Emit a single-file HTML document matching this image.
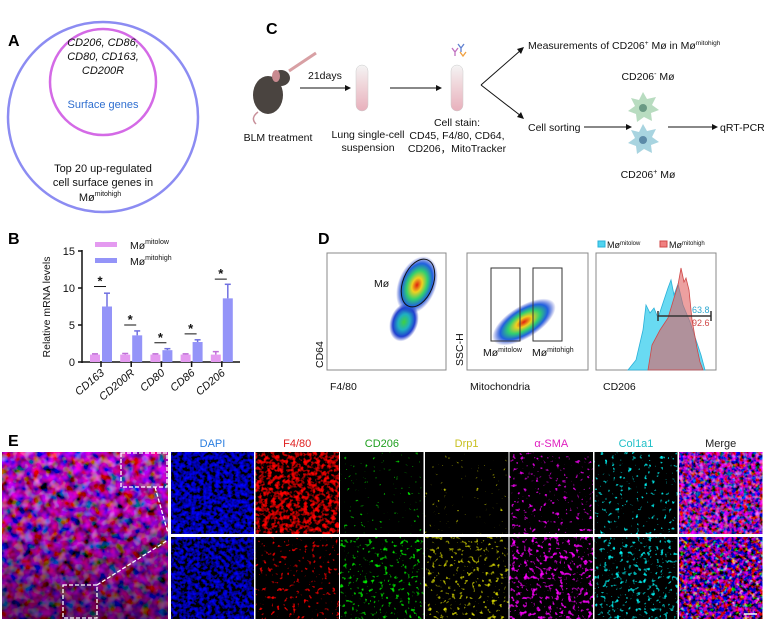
<!DOCTYPE html>
<html><head><meta charset="utf-8">
<style>
html,body{margin:0;padding:0;background:#fff;}
svg{display:block;font-family:"Liberation Sans",Arial,sans-serif;}
.lbl{font-weight:bold;font-size:16px;}
.t{font-size:10.5px;fill:#111;}
</style></head>
<body>
<svg id="fig" width="764" height="622" viewBox="0 0 764 622" xmlns="http://www.w3.org/2000/svg">
<defs>
  <radialGradient id="blob" cx="50%" cy="50%" r="50%">
    <stop offset="0%" stop-color="#e02010"/><stop offset="25%" stop-color="#f0d020"/>
    <stop offset="50%" stop-color="#30d070"/><stop offset="75%" stop-color="#2060e0"/>
    <stop offset="100%" stop-color="#2030c0" stop-opacity="0"/>
  </radialGradient>
  <radialGradient id="blob2" cx="50%" cy="50%" r="50%">
    <stop offset="0%" stop-color="#40d040"/><stop offset="40%" stop-color="#20b0c0"/>
    <stop offset="75%" stop-color="#2040d0"/><stop offset="100%" stop-color="#2030c0" stop-opacity="0"/>
  </radialGradient>
  <linearGradient id="tube" x1="0" y1="0" x2="0" y2="1">
    <stop offset="0%" stop-color="#f4f4f4"/><stop offset="40%" stop-color="#f0d8dc"/><stop offset="100%" stop-color="#e8b0bc"/>
  </linearGradient>
  <linearGradient id="darken" x1="0" y1="0" x2="0" y2="1">
    <stop offset="0%" stop-color="#000" stop-opacity="0"/><stop offset="45%" stop-color="#000" stop-opacity="0.15"/><stop offset="100%" stop-color="#000" stop-opacity="0.5"/>
  </linearGradient>
</defs>

<!-- Panel A -->
<g>
  <text class="lbl" x="8" y="46">A</text>
  <circle cx="103" cy="117" r="95" fill="none" stroke="#8c8cf2" stroke-width="2.5"/>
  <circle cx="103" cy="82" r="53" fill="none" stroke="#d46ae6" stroke-width="2.5"/>
  <g font-style="italic" font-size="11" text-anchor="middle" fill="#111">
    <text x="103" y="46">CD206, CD86,</text><text x="103" y="60">CD80, CD163,</text><text x="103" y="74">CD200R</text>
  </g>
  <text x="103" y="108" font-size="11" text-anchor="middle" fill="#2f6fd0">Surface genes</text>
  <g font-size="11" text-anchor="middle" fill="#111">
    <text x="103" y="172">Top 20 up-regulated</text><text x="103" y="186">cell surface genes in</text>
    <text x="100" y="201">Mø<tspan font-size="7" dy="-5">mitohigh</tspan></text>
  </g>
</g>

<!-- Panel C -->
<g>
  <text class="lbl" x="266" y="34">C</text>
  <g>
    <ellipse cx="268" cy="95" rx="15" ry="19" fill="#4a4440"/>
    <ellipse cx="281" cy="78" rx="9" ry="8" fill="#4a4440"/>
    <ellipse cx="276" cy="76" rx="4" ry="6" fill="#c88a90"/>
    <path d="M258 112 Q250 118 256 124" stroke="#c8909a" fill="none" stroke-width="1.5"/>
    <line x1="289" y1="71" x2="316" y2="53" stroke="#d8a0a4" stroke-width="3"/>
  </g>
  <text class="t" x="308" y="79">21days</text>
  <line x1="300" y1="88" x2="345" y2="88" stroke="#111"/><path d="M345 85 L351 88 L345 91Z" fill="#111"/>
  <rect x="356" y="65" width="12" height="46" rx="6" fill="url(#tube)" stroke="#ccc" stroke-width="0.5"/>
  <line x1="390" y1="88" x2="436" y2="88" stroke="#111"/><path d="M436 85 L442 88 L436 91Z" fill="#111"/>
  <rect x="451" y="65" width="12" height="46" rx="6" fill="url(#tube)" stroke="#ccc" stroke-width="0.5"/>
  <g stroke-width="1.3" fill="none">
    <path d="M452 48 l3 4 l3 -4 M455 52 v4" stroke="#c070c0"/><path d="M458 44 l3 4 l3 -4 M461 48 v4" stroke="#6080d0"/><path d="M460 52 l3 4 l3 -4" stroke="#f0a040"/>
  </g>
  <text class="t" x="278" y="141" text-anchor="middle">BLM treatment</text>
  <text class="t" x="368" y="138" text-anchor="middle" font-size="10"><tspan x="368">Lung single-cell</tspan><tspan x="368" dy="13">suspension</tspan></text>
  <text class="t" x="457" y="126" text-anchor="middle" font-size="10"><tspan x="457">Cell stain:</tspan><tspan x="457" dy="13">CD45, F4/80, CD64,</tspan><tspan x="457" dy="13">CD206，MitoTracker</tspan></text>
  <line x1="481" y1="85" x2="521" y2="50" stroke="#111"/><path d="M517 49 L524 47 L521 54Z" fill="#111"/>
  <line x1="481" y1="85" x2="521" y2="116" stroke="#111"/><path d="M521 112 L524 119 L517 117Z" fill="#111"/>
  <text class="t" x="528" y="49" font-size="10">Measurements of CD206<tspan font-size="6.5" dy="-4">+</tspan><tspan dy="4"> Mø in Mø</tspan><tspan font-size="6.5" dy="-4">mitohigh</tspan></text>
  <text class="t" x="648" y="80" text-anchor="middle" font-size="10">CD206<tspan font-size="7" dy="-4">-</tspan><tspan dy="4"> Mø</tspan></text>
  <g><polygon points="643,92 647,99 656,97 652,105 659,110 651,113 652,121 644,117 637,122 636,114 628,111 635,106 631,98 639,100" fill="#b8dcc0"/><circle cx="643" cy="108" r="4" fill="#6a9a84"/></g>
  <g><polygon points="643,124 647,131 656,129 652,137 659,142 651,145 652,153 644,149 637,154 636,146 628,143 635,138 631,130 639,132" fill="#a8d4e0"/><circle cx="643" cy="140" r="4" fill="#5c8aa8"/></g>
  <text class="t" x="648" y="178" text-anchor="middle" font-size="10">CD206<tspan font-size="7" dy="-4">+</tspan><tspan dy="4"> Mø</tspan></text>
  <text class="t" x="528" y="131" font-size="10">Cell sorting</text>
  <line x1="584" y1="127" x2="626" y2="127" stroke="#111"/><path d="M626 124 L632 127 L626 130Z" fill="#111"/>
  <line x1="668" y1="127" x2="712" y2="127" stroke="#111"/><path d="M712 124 L718 127 L712 130Z" fill="#111"/>
  <text class="t" x="720" y="131" font-size="10">qRT-PCR</text>
</g>

<!-- Panel B -->
<g id="panelB">
  <text class="lbl" x="8" y="244">B</text>
  <rect x="95" y="242" width="22" height="5" fill="#e49af0"/>
  <text class="t" x="130" y="249">Mø<tspan font-size="7" dy="-5">mitolow</tspan></text>
  <rect x="95" y="258" width="22" height="5" fill="#9494f8"/>
  <text class="t" x="130" y="265">Mø<tspan font-size="7" dy="-5">mitohigh</tspan></text>
  <text transform="translate(50,307) rotate(-90)" text-anchor="middle" font-size="10.5" fill="#111">Relative mRNA levels</text>
</g>

<!-- Panel D -->
<g>
  <text class="lbl" x="318" y="244">D</text>
  <rect x="327" y="253" width="119" height="117" fill="#fff" stroke="#888"/>
  <ellipse cx="404" cy="322" rx="14" ry="20" transform="rotate(20 404 322)" fill="url(#blob2)"/>
  <ellipse cx="417" cy="285" rx="19" ry="30" transform="rotate(22 417 285)" fill="url(#blob)"/>
  <ellipse cx="418" cy="283" rx="15" ry="25" transform="rotate(22 418 283)" fill="none" stroke="#111"/>
  <text class="t" x="374" y="287">Mø</text>
  <text transform="translate(323,368) rotate(-90)" class="t">CD64</text>
  <text class="t" x="330" y="390">F4/80</text>

  <rect x="467" y="253" width="121" height="117" fill="#fff" stroke="#888"/>
  <ellipse cx="524" cy="322" rx="16" ry="36" transform="rotate(58 524 322)" fill="url(#blob)"/>
  <rect x="491" y="268" width="29" height="73" fill="none" stroke="#333"/>
  <rect x="533" y="268" width="29" height="73" fill="none" stroke="#333"/>
  <text class="t" x="483" y="356">Mø<tspan font-size="7" dy="-4">mitolow</tspan></text>
  <text class="t" x="532" y="356">Mø<tspan font-size="7" dy="-4">mitohigh</tspan></text>
  <text transform="translate(463,366) rotate(-90)" class="t">SSC-H</text>
  <text class="t" x="470" y="390">Mitochondria</text>

  <rect x="596" y="253" width="120" height="117" fill="#fff" stroke="#888"/>
  <polygon points="628,370 636,360 643,330 646,305 650,313 654,308 658,318 664,300 668,288 671,280 674,295 678,284 683,305 690,322 696,340 701,355 705,370" fill="#4fd4f0" fill-opacity="0.85" stroke="#2ab0d8" stroke-width="0.8"/>
  <polygon points="648,370 652,345 660,330 668,318 674,298 678,285 681,268 684,282 686,278 689,290 692,320 697,348 700,362 703,370" fill="#e06060" fill-opacity="0.6" stroke="#d04848" stroke-width="0.8"/>
  <line x1="658" y1="316" x2="711" y2="316" stroke="#333" stroke-width="1.5"/>
  <line x1="658" y1="311" x2="658" y2="321" stroke="#333" stroke-width="1.5"/><line x1="711" y1="311" x2="711" y2="321" stroke="#333" stroke-width="1.5"/>
  <text x="692" y="313" font-size="9" fill="#30a8d0">63.8</text>
  <text x="692" y="326" font-size="9" fill="#d04848">92.6</text>
  <rect x="598" y="241" width="7" height="6" fill="#4fd4f0" stroke="#2ab0d8"/>
  <text x="607" y="248" font-size="9" fill="#111">Mø<tspan font-size="6" dy="-3">mitolow</tspan></text>
  <rect x="660" y="241" width="7" height="6" fill="#f08080" stroke="#d04848"/>
  <text x="669" y="248" font-size="9" fill="#111">Mø<tspan font-size="6" dy="-3">mitohigh</tspan></text>
  <text class="t" x="603" y="390">CD206</text>
</g>

<!-- Panel E -->
<g id="panelE">
  <text class="lbl" x="8" y="446">E</text>
</g>
</svg>

<script>
// ---- Panel B data ----
const genes = ['CD163','CD200R','CD80','CD86','CD206'];
const lowVals = [1.0, 1.0, 1.0, 1.0, 1.0];
const lowErr = [1.1, 1.15, 1.1, 1.1, 1.4];
const highVals = [7.5, 3.6, 1.6, 2.7, 8.6];
const highErr = [9.3, 4.2, 1.8, 3.0, 10.5];
const sigLevels = [10.2, 5.0, 2.6, 3.8, 11.2];
const yTicks = [0, 5, 10, 15];

const NS = 'http://www.w3.org/2000/svg';
function mk(tag, attrs, parent) {
  const e = document.createElementNS(NS, tag);
  for (const k in attrs) e.setAttribute(k, attrs[k]);
  parent.appendChild(e);
  return e;
}
const gB = document.getElementById('panelB');
const yS = v => 362 - v * (111 / 15);
const xS = i => 101 + i * 30.2;

const yAxis = mk('line', {x1: 82, y1: 250, x2: 82, y2: 363, stroke: '#111', 'stroke-width': 1.5}, gB);


const xAxis = mk('line', {x1: 82, y1: 362, x2: 240, y2: 362, stroke: '#111', 'stroke-width': 1.5}, gB);



yTicks.forEach(t => {
  mk('line', {x1: 78, y1: yS(t), x2: 82, y2: yS(t), stroke: '#111', 'stroke-width': 1.5}, gB);
  const tx = mk('text', {x: 75, y: yS(t) + 4, 'text-anchor': 'end', 'font-size': 11, fill: '#111'}, gB);
  tx.textContent = t;
  
  
});

genes.forEach((g, i) => {
  const c = xS(i);
  const b1 = mk('rect', {x: c - 11, y: yS(lowVals[i]), width: 10, height: yS(0) - yS(lowVals[i]), fill: '#e49af0'}, gB);
  
  
  mk('line', {x1: c - 6, y1: yS(lowVals[i]), x2: c - 6, y2: yS(lowErr[i]), stroke: '#c070d8', 'stroke-width': 1.5}, gB);
  mk('line', {x1: c - 9, y1: yS(lowErr[i]), x2: c - 3, y2: yS(lowErr[i]), stroke: '#c070d8', 'stroke-width': 1.5}, gB);
  const b2 = mk('rect', {x: c + 1, y: yS(highVals[i]), width: 10, height: yS(0) - yS(highVals[i]), fill: '#9494f8'}, gB);
  
  
  mk('line', {x1: c + 6, y1: yS(highVals[i]), x2: c + 6, y2: yS(highErr[i]), stroke: '#7070e0', 'stroke-width': 1.5}, gB);
  mk('line', {x1: c + 3, y1: yS(highErr[i]), x2: c + 9, y2: yS(highErr[i]), stroke: '#7070e0', 'stroke-width': 1.5}, gB);
  const sl = mk('line', {x1: c - 7, y1: yS(sigLevels[i]), x2: c + 5, y2: yS(sigLevels[i]), stroke: '#111', 'stroke-width': 1}, gB);
  
  
  const st = mk('text', {x: c - 1, y: yS(sigLevels[i]) - 1, 'text-anchor': 'middle', 'font-size': 13, 'font-weight': 'bold', fill: '#111'}, gB);
  st.textContent = '*';
  
  
  mk('line', {x1: c, y1: 362, x2: c, y2: 367, stroke: '#111', 'stroke-width': 1.5}, gB);
  const xl = mk('text', {x: 0, y: 0, 'text-anchor': 'end', 'font-size': 11, 'font-style': 'italic', fill: '#111', transform: 'translate(' + (c + 4) + ',374) rotate(-40)'}, gB);
  xl.textContent = g;
  
  
});

// ---- Panel E microscopy ----
const gE = document.getElementById('panelE');
const defs = document.querySelector('defs');
function noiseFilter(id, freq, seed, m) {
  const f = mk('filter', {id: id, x: 0, y: 0, width: '100%', height: '100%'}, defs);
  mk('feTurbulence', {type: 'fractalNoise', baseFrequency: freq, numOctaves: 2, seed: seed}, f);
  mk('feColorMatrix', {type: 'matrix', values: m}, f);
}
const chanNames = ['DAPI', 'F4/80', 'CD206', 'Drp1', 'α-SMA', 'Col1a1', 'Merge'];
const chanColors = ['#2a7ee0', '#e02020', '#20a020', '#c8c020', '#e020c0', '#20c0c8', '#222'];
const topMats = [
  '0 0 0 0 0  0 0 0 0 0  2.4 0 0 0 -0.85  0 0 0 0 1',
  '3.5 0 0 0 -1.6  0 0 0 0 0  0 0 0 0 0  0 0 0 0 1',
  '0 0 0 0 0  0 5 0 0 -3.6  0 0 0 0 0  0 0 0 0 1',
  '3 0 0 0 -2.2  3 0 0 0 -2.2  0 0 0 0 0  0 0 0 0 1',
  '5 0 0 0 -3.3  0 0 0 0 0  5 0 0 0 -3.3  0 0 0 0 1',
  '0 0 0 0 0  5 0 0 0 -3.4  5 0 0 0 -3.4  0 0 0 0 1',
  '2.6 0 0 0 -1.0  0 0.6 0 0 -0.3  0 0 2.6 0 -0.9  0 0 0 0 1'
];
const botMats = [
  '0 0 0 0 0  0 0 0 0 0  2.4 0 0 0 -0.95  0 0 0 0 1',
  '5 0 0 0 -3.2  0 0 0 0 0  0 0 0 0 0  0 0 0 0 1',
  '0 0 0 0 0  0 4 0 0 -2.5  0 0 0 0 0  0 0 0 0 1',
  '3 0 0 0 -1.9  3 0 0 0 -1.9  0 0 0 0 0  0 0 0 0 1',
  '5 0 0 0 -2.9  0 0 0 0 0  5 0 0 0 -2.9  0 0 0 0 1',
  '0 0 0 0 0  4 0 0 0 -2.45  4 0 0 0 -2.45  0 0 0 0 1',
  '2.6 0 0 0 -1.1  0 2.2 0 0 -1.3  0 0 2.6 0 -1.0  0 0 0 0 1'
];

noiseFilter('fbig', 0.12, 7, '2.0 0 0 0 -0.6  0 0.6 0 0 -0.3  0 0 2.2 0 -0.65  0 0 0 0 1');
const big = mk('rect', {x: 2, y: 452, width: 166, height: 167, fill: '#000', filter: 'url(#fbig)'}, gE);


mk('rect', {x: 2, y: 452, width: 166, height: 167, fill: 'url(#darken)'}, gE);
const z1 = mk('rect', {x: 121, y: 453, width: 46, height: 34, fill: 'none', stroke: '#fff', 'stroke-width': 1.3, 'stroke-dasharray': '4,2'}, gE);


const z2 = mk('rect', {x: 63, y: 585, width: 34, height: 33, fill: 'none', stroke: '#fff', 'stroke-width': 1.3, 'stroke-dasharray': '4,2'}, gE);


mk('line', {x1: 97, y1: 585, x2: 168, y2: 540, stroke: '#fff', 'stroke-width': 1.3, 'stroke-dasharray': '4,2'}, gE);
mk('line', {x1: 155, y1: 487, x2: 168, y2: 533, stroke: '#fff', 'stroke-width': 1.3, 'stroke-dasharray': '4,2'}, gE);

chanNames.forEach((n, i) => {
  const x = 171 + i * 84.7;
  const lab = mk('text', {x: x + 41.5, y: 447, 'text-anchor': 'middle', 'font-size': 11, fill: chanColors[i]}, gE);
  lab.textContent = n;
  
  
  noiseFilter('ft' + i, 0.25, 11 + i, topMats[i]);
  noiseFilter('fb' + i, 0.25, 31 + i, botMats[i]);
  const r1 = mk('rect', {x: x, y: 452, width: 83, height: 82, fill: '#000', filter: 'url(#ft' + i + ')'}, gE);
  
  
  const r2 = mk('rect', {x: x, y: 537, width: 83, height: 82, fill: '#000', filter: 'url(#fb' + i + ')'}, gE);
  
  
});
const sb = mk('line', {x1: 744, y1: 614, x2: 757, y2: 614, stroke: '#fff', 'stroke-width': 1.5}, gE);


</script>
</body></html>
